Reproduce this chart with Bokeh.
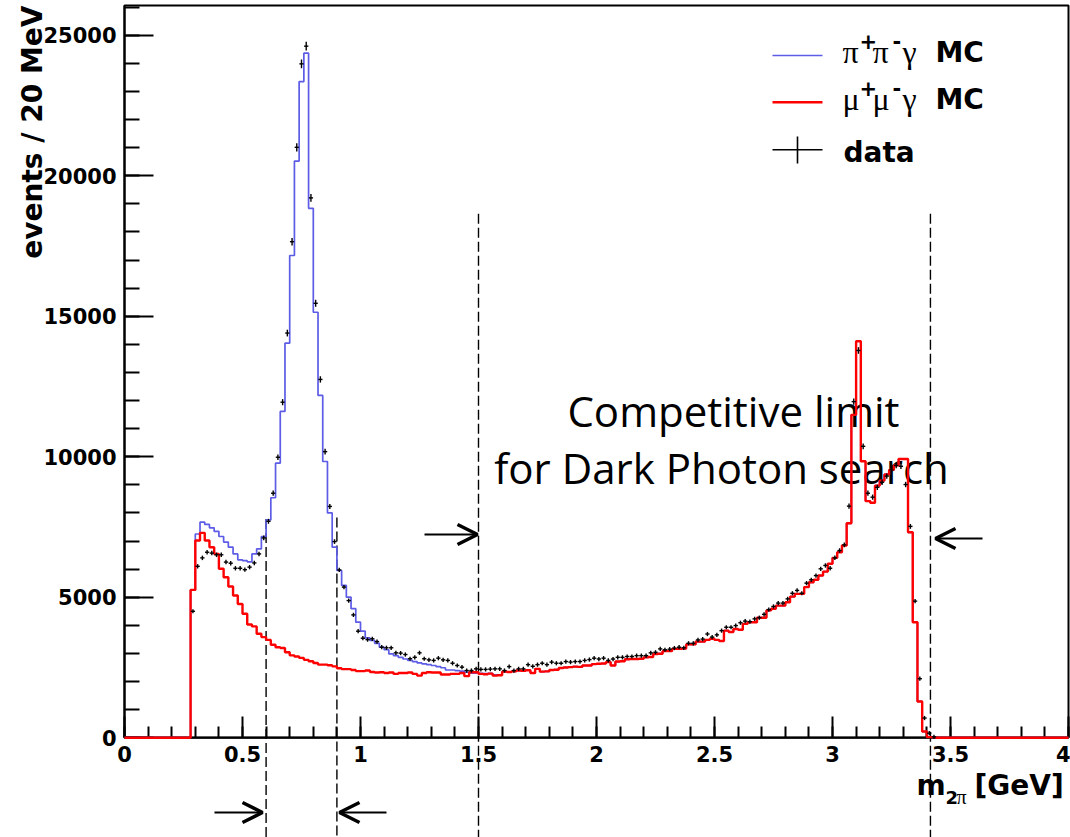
import numpy as np
from bokeh.plotting import figure
from bokeh.models import (Range1d, LinearAxis, SingleIntervalTicker, CustomJSTickFormatter,
                          BoxAnnotation, Label, Arrow, OpenHead)
from bokeh.embed import file_html
from bokeh.resources import INLINE

# ---------------- data ----------------
bin_width = 0.02          # GeV (20 MeV bins)
x_min, x_max = 0.0, 4.0
first_filled_bin = 0.28   # lower edge of the first non-empty bin

# mu+ mu- gamma MC, bins 0.28 ... 3.42 GeV (lower edges)
mumu_mc = [
    5260, 7020, 7290, 7020, 6780, 6540, 6010, 5710, 5380, 5060,
    4760, 4410, 4030, 3960, 3700, 3580, 3480, 3310, 3220, 3190,
    3040, 2930, 2890, 2840, 2770, 2720, 2660, 2600, 2600, 2580,
    2540, 2470, 2440, 2440, 2410, 2370, 2370, 2390, 2340, 2320,
    2330, 2300, 2320, 2270, 2300, 2300, 2320, 2270, 2210, 2300,
    2330, 2320, 2320, 2250, 2250, 2270, 2270, 2300, 2190, 2330,
    2330, 2270, 2260, 2280, 2210, 2220, 2350, 2340, 2360, 2390,
    2380, 2400, 2300, 2450, 2350, 2360, 2410, 2420, 2480, 2500,
    2510, 2530, 2520, 2570, 2570, 2620, 2630, 2640, 2690, 2570,
    2710, 2720, 2790, 2800, 2800, 2810, 2860, 2870, 2980, 2990,
    3080, 3080, 3160, 3160, 3170, 3320, 3320, 3420, 3420, 3480,
    3520, 3480, 3440, 3810, 3760, 3870, 3840, 4050, 4110, 4110,
    4270, 4270, 4530, 4590, 4700, 4700, 4820, 5020, 5120, 5120,
    5360, 5530, 5620, 5770, 5910, 6190, 6400, 6600, 6840, 7630,
    11490, 14110, 9840, 8420, 8360, 8970, 9150, 9370, 9530, 9690,
    9920, 9920, 7310, 4110, 1290, 220, 20, 10,
]

# pi+ pi- gamma MC, visible part: bins 0.28 ... 1.58 GeV
# (above 1.6 GeV the blue line lies under the red mu+mu-gamma line)
pipi_mc = [
    5260, 7250, 7670, 7590, 7470, 7340, 7160, 6960, 6780, 6540,
    6330, 6300, 6260, 6540, 6720, 7160, 7750, 8540, 9770, 11610,
    14040, 17160, 20520, 23350, 24360, 18840, 15140, 12180, 9830, 8000,
    6780, 5950, 5420, 5000, 4590, 4110, 3790, 3550, 3460, 3360,
    3220, 3130, 2980, 2920, 2860, 2800, 2750, 2710, 2660, 2630,
    2600, 2570, 2530, 2490, 2410, 2410, 2390, 2370, 2330, 2300,
    2300, 2290, 2280, 2290, 2240, 2240,
]

# data, bins 0.28 ... 3.42 GeV (centres 0.29 ... 3.43)
data_counts = [
    4500, 6100, 6400, 6600, 6570, 6510, 6510, 6250, 6210, 6030,
    6030, 5980, 6070, 6220, 6540, 7110, 7700, 8700, 9980, 11940,
    14400, 17650, 21010, 23980, 24610, 19210, 15460, 12750, 10180, 8230,
    6980, 5970, 5360, 4880, 4370, 3790, 3540, 3490, 3520, 3420,
    3220, 3200, 3200, 3020, 3010, 2960, 2810, 2860, 3020, 2810,
    2770, 2750, 2830, 2770, 2750, 2650, 2570, 2510, 2390, 2390,
    2450, 2430, 2430, 2440, 2450, 2450, 2390, 2530, 2390, 2450,
    2450, 2600, 2540, 2600, 2650, 2600, 2690, 2650, 2650, 2710,
    2690, 2710, 2710, 2750, 2780, 2830, 2800, 2830, 2750, 2800,
    2860, 2860, 2890, 2890, 2920, 2920, 2920, 3020, 3040, 3160,
    3130, 3150, 3190, 3220, 3200, 3360, 3360, 3480, 3510, 3690,
    3580, 3660, 3810, 3930, 3930, 3990, 4090, 4150, 4130, 4230,
    4270, 4390, 4560, 4670, 4790, 4790, 4940, 5140, 5240, 5140,
    5500, 5620, 5770, 6010, 6130, 6030, 6400, 6660, 6860, 8240,
    11960, 13780, 10370, 8700, 8560, 8910, 9090, 9310, 9530, 9690,
    9660, 9010, 7520, 4860, 2100, 700, 160, 30,
]

x_tick_interval = 0.5
y_tick_interval = 5000
y_frame_top = 26057

# dashed limit lines: x position (GeV) and top (events)
limit_lines_x = [0.6, 0.9, 1.5, 3.415]
limit_lines_top = [7780, 7840, 18650, 18650]

# ---------------- page geometry ----------------
W, H = 1070, 837
PX_X0, PX_PER_GEV = 124.0, 236.0
PX_Y0, PX_PER_EVT = 737.2, 0.0281


def X(px):
    return (px - PX_X0) / PX_PER_GEV


def Y(py):
    return (PX_Y0 - py) / PX_PER_EVT


p = figure(width=W, height=H, x_range=Range1d(X(0), X(W)), y_range=Range1d(Y(H), Y(0)),
           output_backend="svg", toolbar_location=None, min_border=0,
           x_axis_location=None, y_axis_location=None)
p.outline_line_color = None
p.background_fill_color = "white"
p.border_fill_color = "white"
p.grid.visible = False

fmt = CustomJSTickFormatter(code="return String(Math.round(tick*1000)/1000)")
axis_style = dict(axis_line_width=2, axis_line_color="black",
                  major_tick_out=0, minor_tick_out=0,
                  major_tick_line_width=2, minor_tick_line_width=2,
                  major_tick_line_color="black", minor_tick_line_color="black",
                  major_label_text_font="DejaVu Sans", major_label_text_font_style="bold",
                  major_label_text_font_size="21px", major_label_text_color="black",
                  formatter=fmt)
xaxis = LinearAxis(fixed_location=0, bounds=(x_min, x_max),
                   ticker=SingleIntervalTicker(interval=x_tick_interval, num_minor_ticks=5),
                   major_tick_in=21, minor_tick_in=11, major_label_standoff=8, **axis_style)
yaxis = LinearAxis(fixed_location=0, bounds=(0, y_frame_top),
                   ticker=SingleIntervalTicker(interval=y_tick_interval, num_minor_ticks=5),
                   major_tick_in=29, minor_tick_in=15, major_label_standoff=8, **axis_style)
p.add_layout(xaxis, "below")
p.add_layout(yaxis, "left")

# frame
p.add_layout(BoxAnnotation(left=x_min, right=x_max, bottom=0, top=y_frame_top,
                           fill_color=None, fill_alpha=0, line_color="black",
                           line_width=2, line_alpha=1))

# ---------------- histograms ----------------
n_bins = int(round((x_max - x_min) / bin_width))
edges = np.round(x_min + np.arange(n_bins + 1) * bin_width, 6)
i0 = int(round((first_filled_bin - x_min) / bin_width))

red_full = np.zeros(n_bins)
red_full[i0:i0 + len(mumu_mc)] = mumu_mc
blue_full = red_full.copy()
blue_full[i0:i0 + len(pipi_mc)] = pipi_mc

BLUE = "#5c5ce6"
RED = "#ff0000"
r_blue = p.step(edges, np.append(blue_full, blue_full[-1]), mode="after",
                line_color=BLUE, line_width=1.7)
r_red = p.step(edges, np.append(red_full, red_full[-1]), mode="after",
               line_color=RED, line_width=2.4)
r_blue.level = "overlay"
r_red.level = "overlay"

# data points with error bars
d = np.array(data_counts, dtype=float)
centres = edges[i0:i0 + len(d)] + bin_width / 2
err = np.maximum(np.sqrt(d), 75)
r1 = p.segment(centres - 0.009, d, centres + 0.009, d, line_color="black", line_width=1.4)
r2 = p.segment(centres, d - err, centres, d + err, line_color="black", line_width=1.4)
r1.level = "overlay"
r2.level = "overlay"

# dashed limit lines (extend below the frame to the bottom of the page)
p.segment(limit_lines_x, limit_lines_top, limit_lines_x, [Y(H + 5)] * len(limit_lines_x),
          line_color="black", line_width=1.4, line_dash="10 4")

# arrows
arrows = [(X(424), X(477), Y(534)), (X(982), X(935), Y(538)),
          (X(214), X(262), Y(812)), (X(386), X(339), Y(812))]
for xs, xe, yy in arrows:
    p.add_layout(Arrow(end=OpenHead(size=20, line_width=3.5, line_color="black"),
                       x_start=xs, y_start=yy, x_end=xe, y_end=yy,
                       line_width=2.2, line_color="black"))

MID = 0.35  # distance (in em) from the em-box middle down to the alphabetic baseline


def lab(text, px, base_py, size, font="DejaVu Sans", style="bold", align="left"):
    """Horizontal text whose alphabetic baseline sits at pixel row base_py."""
    p.add_layout(Label(x=X(px), y=Y(base_py - MID * size), text=text, text_font=font,
                       text_font_style=style, text_font_size=f"{size}px",
                       text_align=align, text_baseline="middle", text_color="black"))


# y-axis title (rotated, baseline at pixel column 42, ends at the top)
ysize = 28
p.add_layout(Label(x=X(42 - MID * ysize), y=Y(5), text="events / 20 MeV",
                   text_font="DejaVu Sans", text_font_style="bold",
                   text_font_size=f"{ysize}px", text_align="right",
                   text_baseline="middle", angle=np.pi / 2, text_color="black"))

# x-axis title
lab("m", 916, 795, 28)
lab("2", 945, 803, 18)
lab("\u03c0", 956, 803, 20, font="Liberation Serif", style="normal")
lab("[GeV]", 974, 795, 28)

# annotation text
lab("Competitive limit", 733, 425, 42, font="Open Sans", style="normal", align="center")
lab("for Dark Photon search", 721, 482, 42, font="Open Sans", style="normal", align="center")

# legend
leg_x0, leg_x1 = X(772), X(822)
p.segment([leg_x0, leg_x0, leg_x0], [Y(55), Y(101.7), Y(149.3)],
          [leg_x1, leg_x1, leg_x1], [Y(55), Y(101.7), Y(149.3)],
          line_color=[BLUE, RED, "black"], line_width=[1.7, 2.4, 1.6])
p.segment([X(797)], [Y(136)], [X(797)], [Y(163)], line_color="black", line_width=1.6)

for g, base in [("\u03c0", 63), ("\u03bc", 110)]:
    lab(g, 842, base, 32, font="Liberation Serif", style="normal")
    lab("+", 859, base - 15, 21)
    lab(g, 872, base, 32, font="Liberation Serif", style="normal")
    lab("-", 892, base - 15, 21)
    lab("\u03b3", 902, base, 32, font="Liberation Serif", style="normal")
    lab("MC", 935, base - 1, 28)
lab("data", 843, 162, 28)

open("out.html", "w").write(file_html(p, INLINE))
